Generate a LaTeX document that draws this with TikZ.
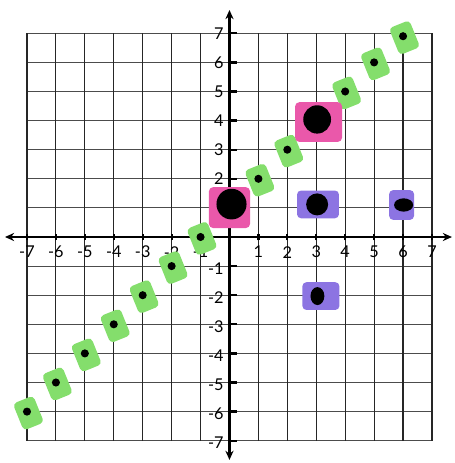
\documentclass[tikz,border=0pt]{standalone}
\usepackage{fontspec}
\setmainfont{Lato}
\usetikzlibrary{arrows.meta,shapes.geometric}
\definecolor{pinkm}{RGB}{234,88,170}
\definecolor{purplem}{RGB}{140,116,226}
\definecolor{greenm}{RGB}{132,222,108}
\begin{document}
\begin{tikzpicture}[x=1cm,y=1.006cm,
  gridv/.style={line width=1.1pt, black!85},
  gridh/.style={line width=0.9pt, black!70},
  axisline/.style={line width=2.4pt, {Stealth[length=9pt,width=8pt]}-{Stealth[length=9pt,width=8pt]}},
  tickmark/.style={line width=2.2pt},
  lab/.style={font=\fontsize{16}{16}\selectfont, inner sep=0pt},
  greenmark/.style={fill=greenm, draw=none, rounded corners=4pt, minimum width=0.76cm, minimum height=1.0cm, inner sep=0pt, rotate=22},
  pinkmark/.style={fill=pinkm, draw=none, rounded corners=4pt, inner sep=0pt},
  purplemark/.style={fill=purplem, draw=none, rounded corners=4pt, inner sep=0pt},
  smalldot/.style={circle, fill=black, inner sep=0pt, minimum size=0.28cm},
  bigdot/.style={ellipse, fill=black, inner sep=0pt}
]
\useasboundingbox (-7.933,-7.766) rectangle (7.795,8.144);
% grid
\foreach \i in {-7,...,7} {
  \draw[gridh] (-7,\i) -- (7,\i);
}
\foreach \i in {-7,...,7} {
  \draw[gridv] (\i,-7) -- (\i,7);
}
% axes
\coordinate (xl) at (-7.76,0);
\coordinate (xr) at (7.69,0);
\coordinate (yt) at (0,7.8);
\coordinate (yb) at (0,-7.66);
\draw[axisline] (xl) -- (xr);
\draw[axisline] (yb) -- (yt);
\foreach \i in {-7,...,-1,1,2,...,7} {
  \draw[tickmark] (\i,-0.12) -- (\i,0.12);
  \draw[tickmark] (-0.05,\i) -- (0.25,\i);
}
% labels
\foreach \i in {-7,...,-1,1,2,...,7} {
  \node[lab] (xlab\i) at (\i,-0.52) {\i};
}
\foreach \i in {1,...,7} {
  \node[lab, anchor=east] (ylab\i) at (-0.2,\i) {\i};
}
\foreach \i in {-7,...,-1} {
  \node[lab, anchor=east] (ylab\i) at (-0.2,\i-0.08) {\i};
}
% green markers with small dots
\foreach \p/\q [count=\k] in {-7/-6,-6/-5,-5/-4,-4/-3,-3/-2,-2/-1,-1/0,1/2,2/3,4/5,5/6,6/6.9} {
  \node[greenmark] (g\k) at (\p+0.05,\q-0.05) {};
  \node[smalldot] (d\k) at (\p,\q) {};
}
% pink markers
\node[pinkmark, minimum width=1.42cm, minimum height=1.41cm] (p1) at (0,1.01) {};
\node[bigdot, minimum width=1.04cm, minimum height=1.06cm] (b1) at (0.07,1.13) {};
\node[pinkmark, minimum width=1.62cm, minimum height=1.37cm] (p2) at (3.08,3.95) {};
\node[bigdot, minimum width=0.96cm, minimum height=0.98cm] (b2) at (3.03,4.04) {};
% purple markers
\node[purplemark, minimum width=1.45cm, minimum height=0.96cm] (q1) at (3.06,1.12) {};
\node[bigdot, minimum width=0.76cm, minimum height=0.76cm] (c1) at (3.03,1.12) {};
\node[purplemark, minimum width=0.86cm, minimum height=1.03cm] (q2) at (5.95,1.1) {};
\node[bigdot, minimum width=0.66cm, minimum height=0.46cm] (c2) at (6.02,1.1) {};
\node[purplemark, minimum width=1.28cm, minimum height=0.96cm] (q3) at (3.16,-2.03) {};
\node[bigdot, minimum width=0.48cm, minimum height=0.62cm] (c3) at (3.04,-2.03) {};
\end{tikzpicture}
\end{document}
